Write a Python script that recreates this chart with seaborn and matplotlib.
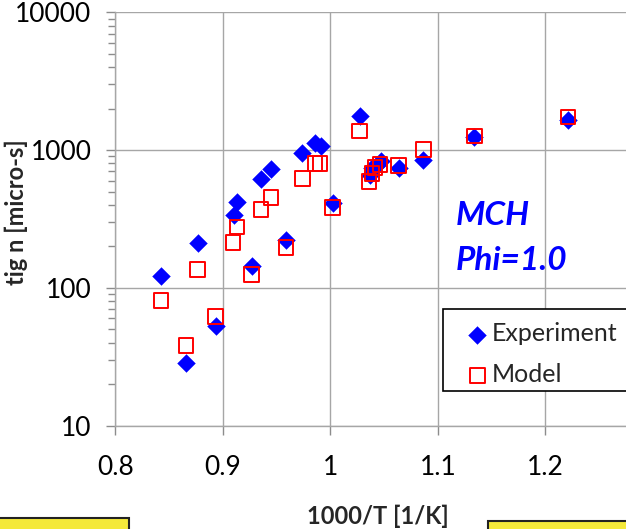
import matplotlib
matplotlib.use('Agg')
import matplotlib.pyplot as plt
from matplotlib.patches import Rectangle
from matplotlib.ticker import LogLocator, NullFormatter
import numpy as np
import pandas as pd
import seaborn as sns

sns.set_style('ticks')
plt.rcParams['font.family'] = ['Lato', 'DejaVu Sans']

# ignition delay data
inv_T_exp = [0.8425, 0.8658, 0.8766, 0.8933, 0.9100, 0.9132, 0.9268, 0.9355,
             0.9448, 0.9588, 0.9739, 0.9860, 0.9912, 1.0023, 1.0273, 1.0369,
             1.0388, 1.0435, 1.0472, 1.0640, 1.0866, 1.1340, 1.2210]
tign_exp = [123, 28.5, 213, 52.6, 336, 419, 143, 620,
            733, 221, 951, 1124, 1069, 410, 1756, 655,
            736, 774, 828, 740, 842, 1242, 1643]

inv_T_mod = [0.8425, 0.8658, 0.8763, 0.8930, 0.9095, 0.9132, 0.9265, 0.9355,
             0.9448, 0.9588, 0.9739, 0.9858, 0.9905, 1.0021, 1.0273, 1.0360,
             1.0388, 1.0416, 1.0463, 1.0637, 1.0868, 1.1340, 1.2210]
tign_mod = [81, 38.3, 136, 62, 214, 276, 125, 369,
            452, 196, 620, 797, 797, 382, 1378, 593,
            678, 749, 788, 774, 1007, 1268, 1736]

x_ticks = [0.8, 0.9, 1.0, 1.1, 1.2]
x_labels = ['0.8', '0.9', '1', '1.1', '1.2']
y_ticks = [10, 100, 1000, 10000]
y_labels = ['10', '100', '1000', '10000']

exp_df = pd.DataFrame({'invT': inv_T_exp, 'tign': tign_exp})
mod_df = pd.DataFrame({'invT': inv_T_mod, 'tign': tign_mod})

fig = plt.figure(figsize=(6.26, 5.29), dpi=100)
# axes runs past the right edge, as in the cropped reference
ax = fig.add_axes([0.1842, 0.1953, 0.8586, 0.7814])

sns.scatterplot(data=exp_df, x='invT', y='tign', ax=ax, marker='D', s=82,
                color='#0000ff', edgecolor='#0000ff', linewidth=0.3,
                label='Experiment', zorder=3)
sns.scatterplot(data=mod_df, x='invT', y='tign', ax=ax, marker='s', s=112,
                facecolors='none', edgecolor='#ff0000', linewidth=1.4,
                label='Model', zorder=4)

ax.set_yscale('log')
ax.set_xlim(0.8, 1.3)
ax.set_ylim(10, 10000)
ax.set_xticks(x_ticks)
ax.set_xticklabels(x_labels)
ax.set_yticks(y_ticks)
ax.set_yticklabels(y_labels)
ax.yaxis.set_minor_locator(LogLocator(base=10, subs=np.arange(2, 10)))
ax.yaxis.set_minor_formatter(NullFormatter())

ax.grid(True, which='major', color='#a6a6a6', linewidth=1.0)
ax.set_axisbelow(True)
for side in ['top', 'right']:
    ax.spines[side].set_visible(False)
for side in ['left', 'bottom']:
    ax.spines[side].set_color('#a6a6a6')
    ax.spines[side].set_linewidth(1.0)

ax.tick_params(axis='both', which='major', direction='out', length=6.2,
               width=1.0, color='#8c8c8c', labelsize=19, labelcolor='black')
ax.tick_params(axis='x', which='major', pad=15)
ax.tick_params(axis='y', which='major', pad=11)
ax.tick_params(axis='y', which='minor', direction='out', length=5,
               width=1.0, color='#8c8c8c')

ax.set_xlabel('1000/T [1/K]', fontsize=17, fontweight='bold')
ax.set_ylabel('tig n [micro-s]', fontsize=17, fontweight='bold')
ax.xaxis.set_label_coords(0.489, -0.192)
ax.yaxis.set_label_coords(-0.162, 0.516)

ax.text(1.117, 284, 'MCH', color='#0000ff', fontsize=24, fontweight='bold',
        fontstyle='italic', va='baseline', ha='left')
ax.text(1.117, 134, 'Phi=1.0', color='#0000ff', fontsize=24, fontweight='bold',
        fontstyle='italic', va='baseline', ha='left')

# legend box (drawn separately so the padding can match the reference)
ax.add_patch(Rectangle((0.6097, 0.0839), 0.6, 0.1984, transform=ax.transAxes,
                       facecolor='white', edgecolor='black', linewidth=1.2,
                       zorder=5, clip_on=False))
leg = ax.legend(loc='upper left', bbox_to_anchor=(0.657, 0.250), frameon=False,
                fontsize=18, handlelength=0.7, handletextpad=0.25,
                labelspacing=0.72, borderpad=0, borderaxespad=0)
leg.set_zorder(6)

# yellow note boxes at the bottom edge
fig.patches.append(Rectangle((-0.02, -0.05), (129.3 + 12) / 626, 0.0714,
                             transform=fig.transFigure, facecolor='#f4e93a',
                             edgecolor='#222222', linewidth=1.5))
fig.patches.append(Rectangle((488.3 / 626, -0.05), 0.3, 0.0657,
                             transform=fig.transFigure, facecolor='#f4e93a',
                             edgecolor='#222222', linewidth=1.5))

plt.savefig('out.png', dpi=100)
plt.close()
